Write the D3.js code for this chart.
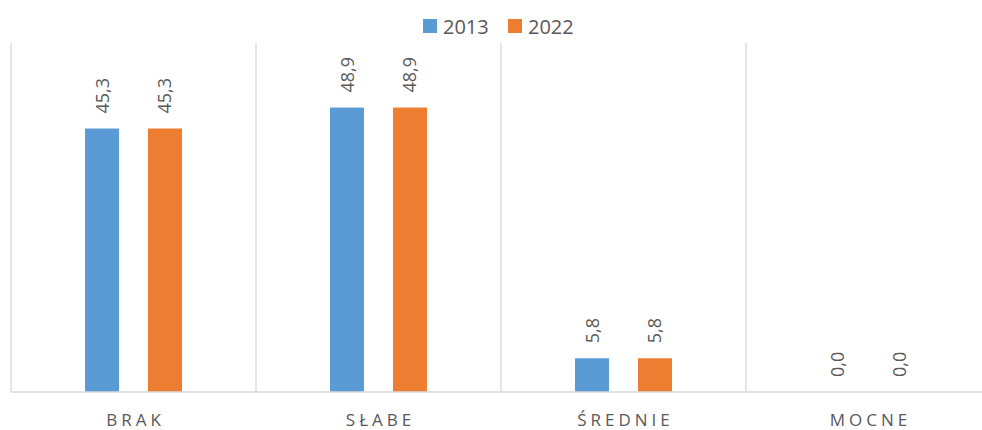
<!DOCTYPE html>
<html>
<head>
<meta charset="utf-8">
<script src="https://cdn.jsdelivr.net/npm/d3@7"></script>
<style>
  html, body { margin: 0; padding: 0; background: #fff; }
  svg { display: block; }
  text { font-family: "Open Sans", "Liberation Sans", sans-serif; fill: #595959; }
</style>
</head>
<body>
<svg id="chart" width="982" height="430"></svg>
<script>
const categories = ["BRAK", "SŁABE", "ŚREDNIE", "MOCNE"];
const seriesNames = ["2013", "2022"];
const values2013 = [45.3, 48.9, 5.8, 0.0];
const values2022 = [45.3, 48.9, 5.8, 0.0];
const colors = ["#5B9BD5", "#ED7D31"];

const W = 982, H = 430;
const plot = { left: 11, right: 991, top: 43, bottom: 392 };

const svg = d3.select("#chart");

const x = d3.scaleBand().domain(categories).range([plot.left, plot.right]).paddingInner(0).paddingOuter(0);
const y = d3.scaleLinear().domain([0, 60]).range([plot.bottom, plot.top]);
const xs = d3.scaleBand().domain(seriesNames).range([0, x.bandwidth()]).paddingInner(0.46).paddingOuter(1.175);

const series = seriesNames.map((name, i) => ({
  name,
  color: colors[i],
  values: (i === 0 ? values2013 : values2022)
}));

// vertical category separators
const bounds = categories.map(c => x(c)).concat([x(categories[categories.length - 1]) + x.bandwidth()]);
svg.append("g").selectAll("line").data(bounds).join("line")
  .attr("x1", d => d).attr("x2", d => d)
  .attr("y1", y(60)).attr("y2", y(0))
  .attr("stroke", "#d9d9d9").attr("stroke-width", 1.3);

// bars
const groups = svg.append("g").selectAll("g").data(series).join("g");
groups.selectAll("rect").data(s => s.values.map((v, j) => ({ v, cat: categories[j], s })))
  .join("rect")
  .attr("x", d => x(d.cat) + xs(d.s.name))
  .attr("width", xs.bandwidth())
  .attr("y", d => y(d.v))
  .attr("height", d => y(0) - y(d.v))
  .attr("fill", d => d.s.color);

// value labels, rotated
const fmt = v => v.toFixed(1).replace(".", ",");
groups.selectAll("text").data(s => s.values.map((v, j) => ({ v, cat: categories[j], s })))
  .join("text")
  .attr("transform", d => {
    const cx = x(d.cat) + xs(d.s.name) + xs.bandwidth() / 2 + 6.5;
    const cy = y(d.v) - 15;
    return `translate(${cx},${cy}) rotate(-90)`;
  })
  .attr("text-anchor", "start")
  .attr("font-size", 18)
  .attr("fill", "#595959")
  .text(d => fmt(d.v));

// baseline axis
svg.append("line")
  .attr("x1", plot.left).attr("x2", W)
  .attr("y1", y(0)).attr("y2", y(0))
  .attr("stroke", "#d9d9d9").attr("stroke-width", 1.3);

// category labels
const spacing = 4;
const xAxis = d3.axisBottom(x).tickSize(0).tickPadding(0);
const axisG = svg.append("g").attr("transform", `translate(${spacing / 2},${y(0)})`).call(xAxis);
axisG.select(".domain").remove();
axisG.selectAll("text")
  .attr("y", 34)
  .attr("dy", 0)
  .attr("font-size", 17)
  .attr("letter-spacing", spacing + "px")
  .style("font-family", '"Open Sans", sans-serif')
  .attr("fill", "#595959");

// legend
const legend = svg.append("g");
const legendX = [423, 508];
seriesNames.forEach((name, i) => {
  legend.append("rect").attr("x", legendX[i]).attr("y", 19).attr("width", 14).attr("height", 14).attr("fill", colors[i]);
  legend.append("text").attr("x", legendX[i] + 20).attr("y", 34).attr("font-size", 20).text(name);
});
</script>
</body>
</html>
